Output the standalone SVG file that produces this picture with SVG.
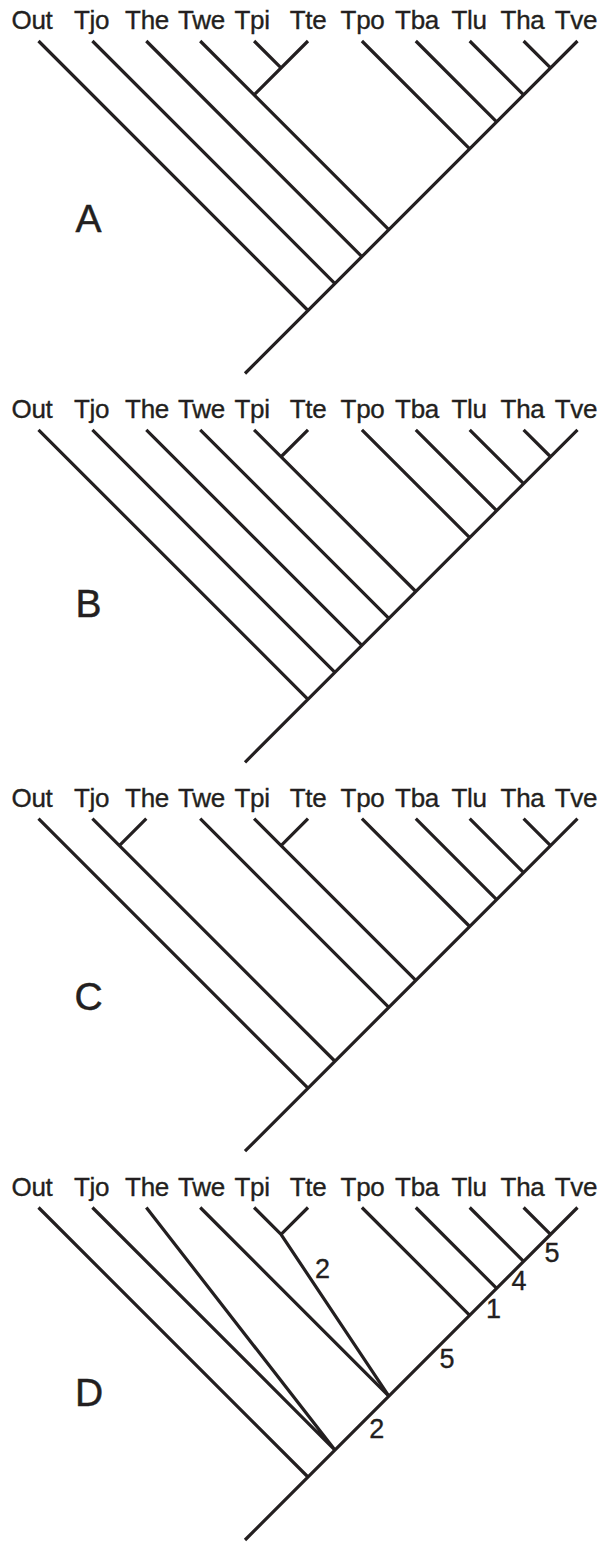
<svg xmlns="http://www.w3.org/2000/svg" width="603" height="1543" viewBox="0 0 603 1543">
<style>
.br{fill:none;stroke:#231f20;stroke-width:3.2;stroke-linecap:butt;stroke-linejoin:miter}
.tx{font-family:"Liberation Sans",Arial,sans-serif;font-size:26px;letter-spacing:-0.3px;fill:#231f20;stroke:#231f20;stroke-width:0.35;text-anchor:middle}
.pl{font-family:"Liberation Sans",Arial,sans-serif;font-size:39px;fill:#231f20;stroke:#231f20;stroke-width:0.5;text-anchor:middle}
.nm{font-family:"Liberation Sans",Arial,sans-serif;font-size:27px;fill:#231f20;stroke:#231f20;stroke-width:0.35;text-anchor:middle}
</style>
<rect width="603" height="1543" fill="#ffffff"/>
<defs>
<g id="taxa">
<text class="tx" x="32" y="-12">Out</text>
<text class="tx" x="91.5" y="-12">Tjo</text>
<text class="tx" x="147" y="-12">The</text>
<text class="tx" x="201.5" y="-12">Twe</text>
<text class="tx" x="252" y="-12">Tpi</text>
<text class="tx" x="308" y="-12">Tte</text>
<text class="tx" x="362.5" y="-12">Tpo</text>
<text class="tx" x="417" y="-12">Tba</text>
<text class="tx" x="469" y="-12">Tlu</text>
<text class="tx" x="522.5" y="-12">Tha</text>
<text class="tx" x="576" y="-12">Tve</text>
</g>
<path id="common" class="br" d="M577.5,0 L245,332.5 M38.5,0 L308,269.5 M200.2,0 L388.85,188.65 M361.9,0 L469.7,107.8 M415.8,0 L496.65,80.85 M469.7,0 L523.6,53.9 M523.6,0 L550.55,26.95"/>
</defs>

<g id="panelA" transform="translate(0,41)">
<g id="labelsA"><use href="#taxa"/></g>
<g id="connectorsA">
<use href="#common"/>
<path class="br" d="M92.4,0 L334.95,242.55 M146.3,0 L361.9,215.6 M254.1,0 L281.05,26.95 M308,0 L254.1,53.9"/>
</g>
<g id="nameA"><text class="pl" x="88.5" y="190.7">A</text></g>
</g>

<g id="panelB" transform="translate(0,429.8)">
<g id="labelsB"><use href="#taxa"/></g>
<g id="connectorsB">
<use href="#common"/>
<path class="br" d="M92.4,0 L334.95,242.55 M146.3,0 L361.9,215.6 M254.1,0 L415.8,161.7 M308,0 L281.05,26.95"/>
</g>
<g id="nameB"><text class="pl" x="88.5" y="187.5">B</text></g>
</g>

<g id="panelC" transform="translate(0,818.7)">
<g id="labelsC"><use href="#taxa"/></g>
<g id="connectorsC">
<use href="#common"/>
<path class="br" d="M92.4,0 L334.95,242.55 M146.3,0 L119.35,26.95 M254.1,0 L415.8,161.7 M308,0 L281.05,26.95"/>
</g>
<g id="nameC"><text class="pl" x="88.5" y="191">C</text></g>
</g>

<g id="panelD" transform="translate(0,1207.5)">
<g id="labelsD"><use href="#taxa"/></g>
<g id="connectorsD">
<use href="#common"/>
<path class="br" d="M92.4,0 L334.95,242.55 M146.3,0 L334.95,242.55 M254.1,0 L281.05,26.95 M308,0 L281.05,26.95 L388.85,188.65"/>
</g>
<g id="nameD"><text class="pl" x="89" y="198.5">D</text></g>
<g id="stepsD">
<text class="nm" x="552" y="54">5</text>
<text class="nm" x="519" y="82.5">4</text>
<text class="nm" x="493.5" y="110.8">1</text>
<text class="nm" x="447" y="160.5">5</text>
<text class="nm" x="376.7" y="230.5">2</text>
<text class="nm" x="322.5" y="70.8">2</text>
</g>
</g>
</svg>
